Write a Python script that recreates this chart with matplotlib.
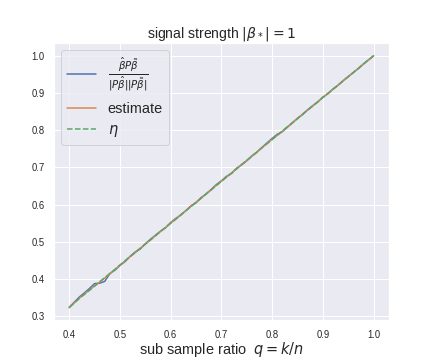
import matplotlib
matplotlib.use('Agg')
import matplotlib.pyplot as plt
import seaborn as sns

sns.set_theme(style='darkgrid')
plt.rcParams['font.family'] = ['Liberation Sans', 'DejaVu Sans']
plt.rcParams['mathtext.fontset'] = 'dejavusans'

q = [0.40, 0.41, 0.42, 0.43, 0.44, 0.45, 0.46, 0.47, 0.48, 0.49,
     0.50, 0.51, 0.52, 0.53, 0.54, 0.55, 0.56, 0.57, 0.58, 0.59,
     0.60, 0.61, 0.62, 0.63, 0.64, 0.65, 0.66, 0.67, 0.68, 0.69,
     0.70, 0.71, 0.72, 0.73, 0.74, 0.75, 0.76, 0.77, 0.78, 0.79,
     0.80, 0.81, 0.82, 0.83, 0.84, 0.85, 0.86, 0.87, 0.88, 0.89,
     0.90, 0.91, 0.92, 0.93, 0.94, 0.95, 0.96, 0.97, 0.98, 0.99, 1.00]

# cosine between beta_hat and beta_tilde (projected)
cos_sim = [0.324, 0.338, 0.352, 0.363, 0.375, 0.388, 0.389, 0.394, 0.415, 0.424,
           0.437, 0.447, 0.461, 0.473, 0.481, 0.495, 0.507, 0.518, 0.529, 0.538,
           0.552, 0.563, 0.572, 0.584, 0.597, 0.605, 0.619, 0.629, 0.641, 0.654,
           0.664, 0.676, 0.684, 0.698, 0.707, 0.718, 0.731, 0.741, 0.754, 0.766,
           0.778, 0.789, 0.796, 0.808, 0.820, 0.832, 0.842, 0.855, 0.866, 0.876,
           0.889, 0.898, 0.911, 0.921, 0.933, 0.944, 0.955, 0.966, 0.978, 0.989, 1.000]

estimate = [0.323, 0.336, 0.349, 0.360, 0.371, 0.382, 0.392, 0.403, 0.414, 0.426,
            0.437, 0.449, 0.461, 0.471, 0.483, 0.494, 0.505, 0.517, 0.528, 0.539,
            0.551, 0.561, 0.573, 0.584, 0.595, 0.607, 0.617, 0.629, 0.640, 0.652,
            0.663, 0.674, 0.685, 0.697, 0.708, 0.719, 0.730, 0.742, 0.753, 0.764,
            0.776, 0.786, 0.797, 0.809, 0.820, 0.832, 0.843, 0.854, 0.865, 0.877,
            0.888, 0.899, 0.910, 0.921, 0.933, 0.944, 0.955, 0.966, 0.978, 0.989, 1.000]

eta = [0.325, 0.336, 0.348, 0.359, 0.370, 0.381, 0.393, 0.404, 0.415, 0.426,
       0.438, 0.449, 0.460, 0.471, 0.483, 0.494, 0.505, 0.516, 0.528, 0.539,
       0.550, 0.561, 0.573, 0.584, 0.595, 0.606, 0.618, 0.629, 0.640, 0.651,
       0.663, 0.674, 0.685, 0.696, 0.708, 0.719, 0.730, 0.741, 0.753, 0.764,
       0.775, 0.786, 0.798, 0.809, 0.820, 0.831, 0.843, 0.854, 0.865, 0.876,
       0.888, 0.899, 0.910, 0.921, 0.933, 0.944, 0.955, 0.966, 0.978, 0.989, 1.000]

fig = plt.figure(figsize=(6, 5), dpi=72)
ax = fig.add_subplot(111)

ax.plot(q, cos_sim, label=r'$\frac{\hat{\beta}P\tilde{\beta}}{|P\hat{\beta}||P\tilde{\beta}|}$', lw=1.5)
ax.plot(q, estimate, label='estimate', lw=1.5)
ax.plot(q, eta, '--', label=r'$\eta$', lw=1.5)

ax.set_title(r'signal strength $|\beta_*|=1$', fontsize=14)
ax.set_xlabel(r'sub sample ratio  $q=k/n$', fontsize=14.5, labelpad=0)
ax.tick_params(labelsize=9.5)
ax.legend(loc='upper left', fontsize=14.5)

fig.savefig('out.png', dpi=72)
